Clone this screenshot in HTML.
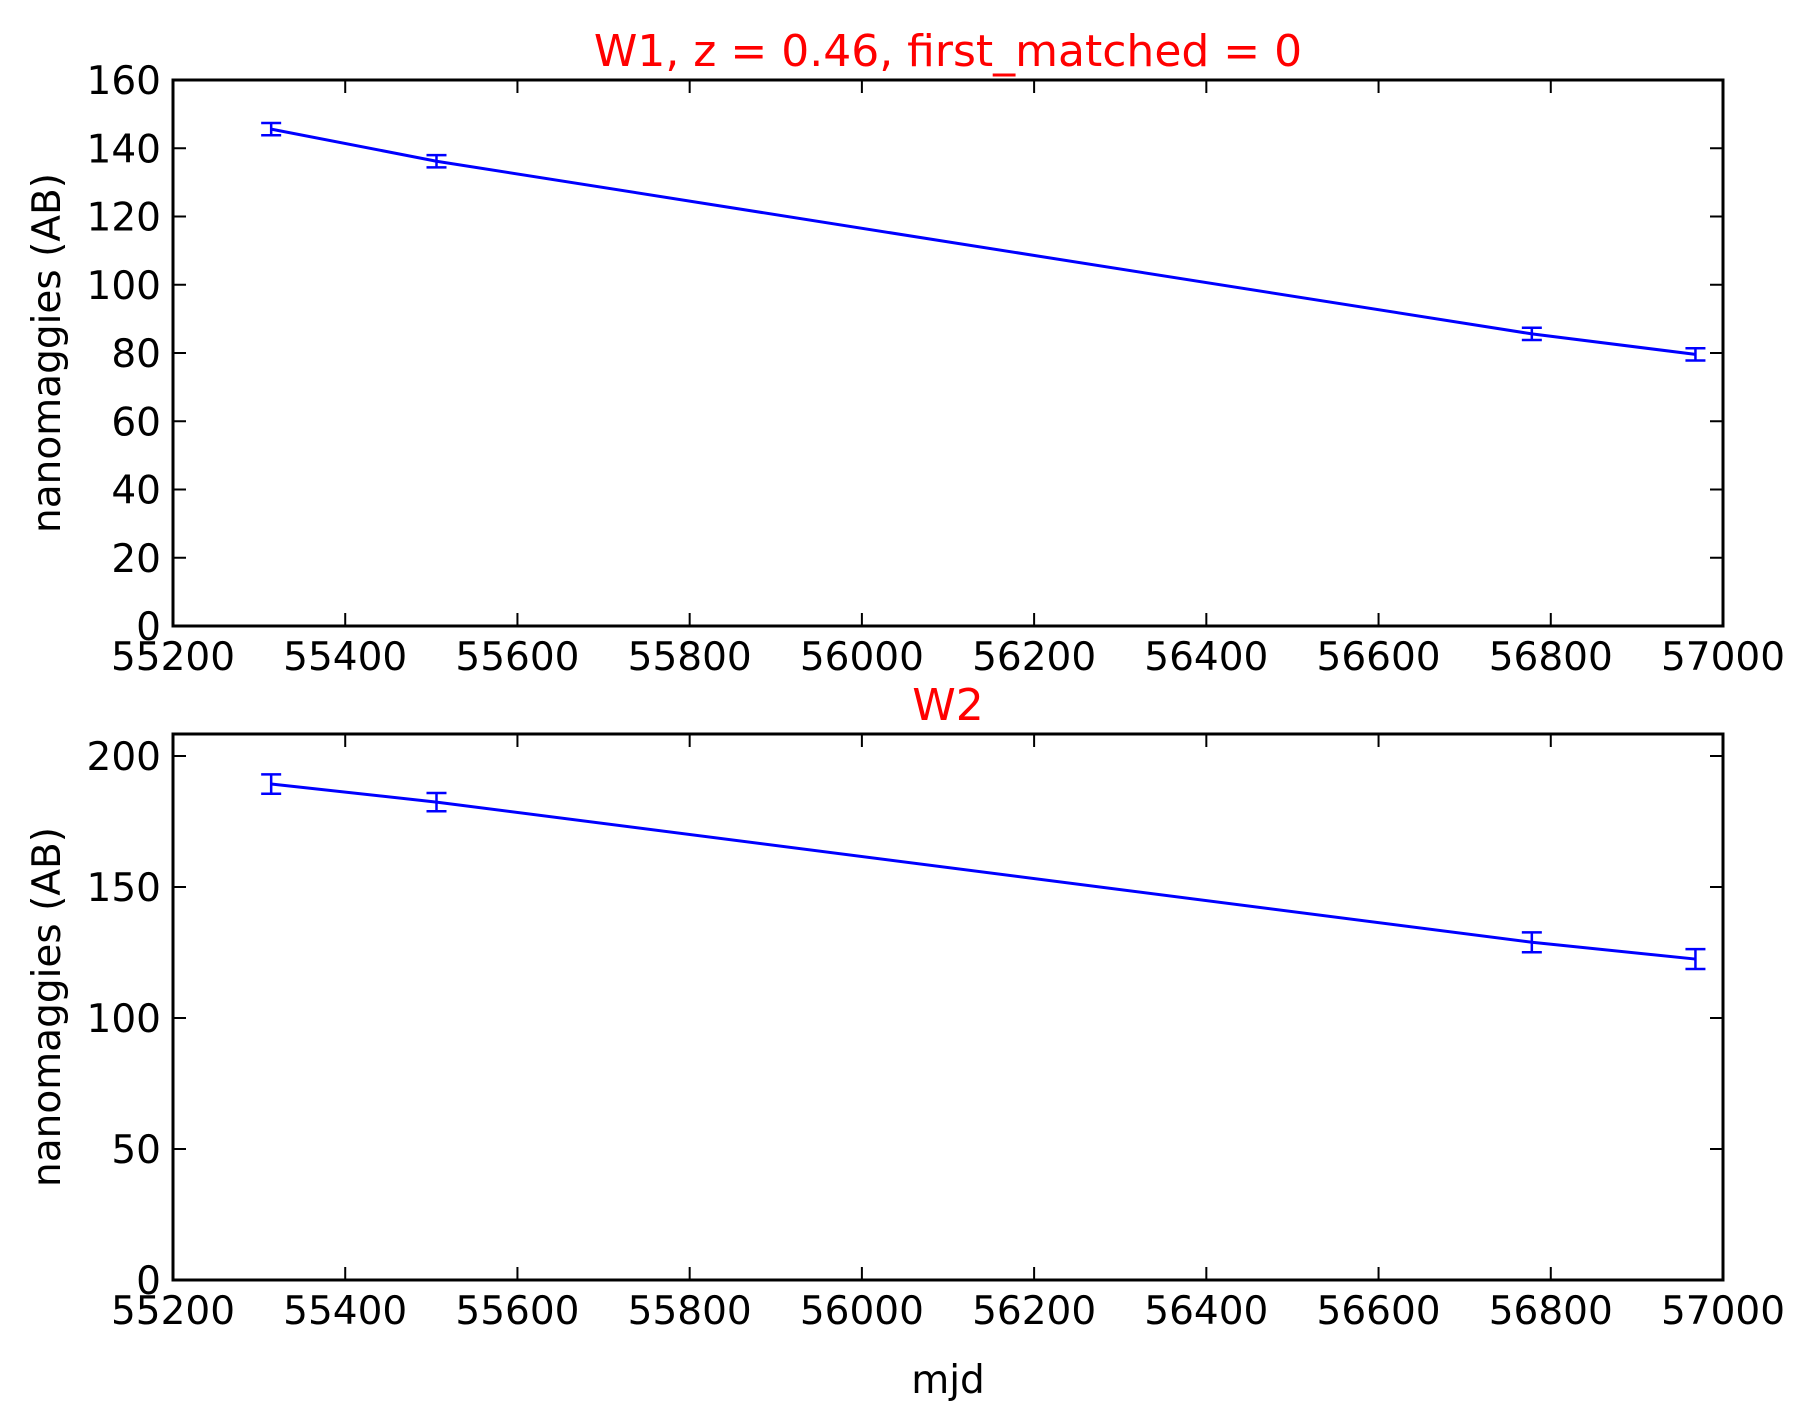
<!DOCTYPE html>
<html><head><meta charset="utf-8"><style>body{margin:0;background:#fff}svg{display:block}text{font-family:"DejaVu Sans","Liberation Sans",sans-serif}</style></head>
<body>
<svg id="c" width="1810" height="1420" xmlns="http://www.w3.org/2000/svg"></svg>
<script>
const mjd = [55314, 55506, 56778, 56968];
const w1Flux = [145.6, 136.2, 85.6, 79.6];
const w1Err = [1.8, 1.8, 1.8, 1.8];
const w2Flux = [189.3, 182.4, 128.9, 122.5];
const w2Err = [3.7, 3.5, 3.8, 3.8];
const xTicks = [55200, 55400, 55600, 55800, 56000, 56200, 56400, 56600, 56800, 57000];
const w1YTicks = [0, 20, 40, 60, 80, 100, 120, 140, 160];
const w2YTicks = [0, 50, 100, 150, 200];

const NS = "http://www.w3.org/2000/svg";
const svg = document.getElementById('c');
function mk(tag, attrs, parent) {
  const e = document.createElementNS(NS, tag);
  for (const k in attrs) e.setAttribute(k, attrs[k]);
  (parent || svg).appendChild(e);
  return e;
}
const L = 173, R = 1723;
const xScale = v => L + (v - 55200) / 1800 * (R - L);

function panel(name, top, bottom, ymax, yTicks, flux, err, title) {
  const g = mk('g', {});
  
  
  const y = v => bottom - v / ymax * (bottom - top);
  // ticks
  xTicks.forEach(t => {
    const x = xScale(t);
    const tk = mk('path', {d: `M${x},${bottom}v-13M${x},${top}v13`, stroke: '#000', 'stroke-width': 2}, g);
    
    
    const lb = mk('text', {x: x, y: bottom + 44, 'font-size': 39, 'text-anchor': 'middle'}, g);
    lb.textContent = t;
    
    
  });
  yTicks.forEach(t => {
    const yy = y(t);
    const tk = mk('path', {d: `M${L},${yy}h13M${R},${yy}h-13`, stroke: '#000', 'stroke-width': 2}, g);
    
    
    const lb = mk('text', {x: L - 12, y: yy + 14, 'font-size': 39, 'text-anchor': 'end'}, g);
    lb.textContent = t;
    
    
  });
  // line
  const pts = mjd.map((m, i) => xScale(m) + ',' + y(flux[i])).join(' ');
  const ln = mk('polyline', {points: pts, fill: 'none', stroke: '#0000ff', 'stroke-width': 3}, g);
  
  
  mjd.forEach((m, i) => {
    const x = xScale(m), y1 = y(flux[i] + err[i]), y2 = y(flux[i] - err[i]);
    const eb = mk('path', {d: `M${x},${y1}V${y2}M${x - 10},${y1}h20M${x - 10},${y2}h20`, stroke: '#0000ff', 'stroke-width': 2.5, fill: 'none'}, g);
    
    
  });
  const fr = mk('rect', {x: L, y: top, width: R - L, height: bottom - top, fill: 'none', stroke: '#000', 'stroke-width': 3}, g);
  
  
  const tt = mk('text', {x: (L + R) / 2, y: top - 14, 'font-size': 44, 'text-anchor': 'middle', fill: '#ff0000'}, g);
  tt.textContent = title;
  
  
  const yl = mk('text', {x: 0, y: 0, 'font-size': 39, 'text-anchor': 'middle', transform: `translate(60,${(top + bottom) / 2}) rotate(-90)`}, g);
  yl.textContent = 'nanomaggies (AB)';
  
  
}
panel('w1', 80, 626, 160, w1YTicks, w1Flux, w1Err, 'W1, z = 0.46, first_matched = 0');
panel('w2', 734, 1280, 208.4, w2YTicks, w2Flux, w2Err, 'W2');
const xl = mk('text', {x: (L + R) / 2, y: 1393, 'font-size': 39, 'text-anchor': 'middle'});
xl.textContent = 'mjd';


</script>
</body></html>
